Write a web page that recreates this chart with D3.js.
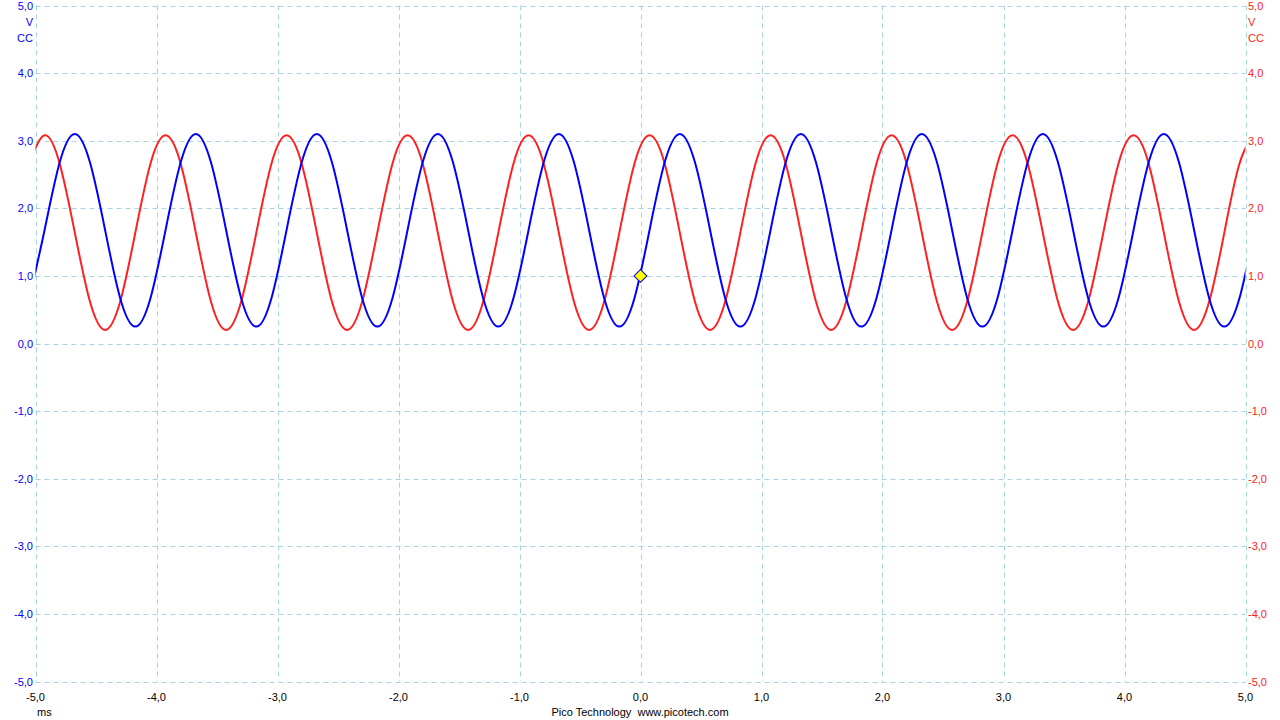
<!DOCTYPE html>
<html>
<head>
<meta charset="utf-8">
<script src="https://cdn.jsdelivr.net/npm/d3@7"></script>
<style>
  html, body { margin: 0; padding: 0; background: #fff; }
  svg { display: block; }
  text { font-family: "Liberation Sans", "DejaVu Sans", sans-serif; font-size: 11px; white-space: pre; }
</style>
</head>
<body>
<svg id="chart" width="1280" height="720"></svg>
<script>
// ---- data ----
const xTicks = [-5, -4, -3, -2, -1, 0, 1, 2, 3, 4, 5];          // ms
const yTicks = [5, 4, 3, 2, 1, 0, -1, -2, -3, -4, -5];          // V
const xUnit = "ms";
const yUnitA = ["V", "CC"];
const yUnitB = ["V", "CC"];
const footer = "Pico Technology  www.picotech.com";
// sample time base (ms) : first sample and interval
const tStart = -5.05;
const tStep = 0.125;
// Channel A (blue), volts
const channelA = [
  0.67, 1.68, 2.68, 3.10, 2.68, 1.68, 0.67, 0.25,
  0.67, 1.68, 2.68, 3.10, 2.68, 1.68, 0.67, 0.25,
  0.67, 1.68, 2.68, 3.10, 2.68, 1.68, 0.67, 0.25,
  0.67, 1.68, 2.68, 3.10, 2.68, 1.68, 0.67, 0.25,
  0.67, 1.68, 2.68, 3.10, 2.68, 1.68, 0.67, 0.25,
  0.67, 1.68, 2.68, 3.10, 2.68, 1.68, 0.67, 0.25,
  0.67, 1.68, 2.68, 3.10, 2.68, 1.68, 0.67, 0.25,
  0.67, 1.68, 2.68, 3.10, 2.68, 1.68, 0.67, 0.25,
  0.67, 1.68, 2.68, 3.10, 2.68, 1.68, 0.67, 0.25,
  0.67, 1.68, 2.68, 3.10, 2.68, 1.68, 0.67, 0.25,
  0.67, 1.68
];
// Channel B (red), volts
const channelB = [
  2.66, 3.08, 2.66, 1.64, 0.62, 0.20, 0.62, 1.64,
  2.66, 3.08, 2.66, 1.64, 0.62, 0.20, 0.62, 1.64,
  2.66, 3.08, 2.66, 1.64, 0.62, 0.20, 0.62, 1.64,
  2.66, 3.08, 2.66, 1.64, 0.62, 0.20, 0.62, 1.64,
  2.66, 3.08, 2.66, 1.64, 0.62, 0.20, 0.62, 1.64,
  2.66, 3.08, 2.66, 1.64, 0.62, 0.20, 0.62, 1.64,
  2.66, 3.08, 2.66, 1.64, 0.62, 0.20, 0.62, 1.64,
  2.66, 3.08, 2.66, 1.64, 0.62, 0.20, 0.62, 1.64,
  2.66, 3.08, 2.66, 1.64, 0.62, 0.20, 0.62, 1.64,
  2.66, 3.08, 2.66, 1.64, 0.62, 0.20, 0.62, 1.64,
  2.66, 3.08
];
const trigger = { t: 0, v: 1.0 };

// ---- drawing ----
const svg = d3.select("#chart");
const L = 35.5, R = 1245.5, T = 5.5, B = 681.5;
const x = d3.scaleLinear().domain([-5, 5]).range([L, R]);
const y = d3.scaleLinear().domain([-5, 5]).range([B, T]);
const blue = "#0000ff", red = "#ff2020", gridC = "#a9d3e0";
const fmt = v => d3.format(".1f")(v).replace(".", ",").replace("−", "-");

// grid
const g = svg.append("g");
g.selectAll(".vg").data(xTicks).join("line")
  .attr("x1", d => Math.round(x(d)) + 0.5).attr("x2", d => Math.round(x(d)) + 0.5)
  .attr("y1", T).attr("y2", B)
  .attr("stroke", gridC).attr("stroke-dasharray", "5,4");
g.selectAll(".hg").data(yTicks).join("line")
  .attr("y1", d => Math.round(y(d)) + 0.5).attr("y2", d => Math.round(y(d)) + 0.5)
  .attr("x1", L).attr("x2", R)
  .attr("stroke", gridC).attr("stroke-dasharray", "5,4");

// traces
svg.append("clipPath").attr("id", "clip").append("rect")
  .attr("x", L).attr("y", T).attr("width", R - L).attr("height", B - T);
const line = d3.line()
  .x((d, i) => x(tStart + i * tStep))
  .y(d => y(d))
  .curve(d3.curveNatural);
svg.append("path").datum(channelB).attr("d", line)
  .attr("fill", "none").attr("stroke", red).attr("stroke-width", 2)
  .attr("clip-path", "url(#clip)");
svg.append("path").datum(channelA).attr("d", line)
  .attr("fill", "none").attr("stroke", blue).attr("stroke-width", 2)
  .attr("clip-path", "url(#clip)");

// trigger marker
const tx = x(trigger.t), ty = y(trigger.v);
svg.append("path")
  .attr("d", d3.symbol().type(d3.symbolSquare).size(82)())
  .attr("transform", `translate(${tx},${ty}) rotate(45)`)
  .attr("fill", "#ffff00").attr("stroke", "#0000e0").attr("stroke-width", 1);

// left axis labels (blue)
svg.append("g").selectAll("text").data(yTicks).join("text")
  .attr("x", 33).attr("y", d => y(d) + 4)
  .attr("text-anchor", "end").attr("fill", blue)
  .text(d => fmt(d));
svg.append("g").selectAll("text").data(yUnitA).join("text")
  .attr("x", 33).attr("y", (d, i) => 26 + i * 16)
  .attr("text-anchor", "end").attr("fill", blue)
  .text(d => d);

// right axis labels (red)
svg.append("g").selectAll("text").data(yTicks).join("text")
  .attr("x", 1248).attr("y", d => y(d) + 4)
  .attr("text-anchor", "start").attr("fill", red)
  .text(d => fmt(d));
svg.append("g").selectAll("text").data(yUnitB).join("text")
  .attr("x", 1248).attr("y", (d, i) => 26 + i * 16)
  .attr("text-anchor", "start").attr("fill", red)
  .text(d => d);

// x axis labels
svg.append("g").selectAll("text").data(xTicks).join("text")
  .attr("x", d => x(d)).attr("y", 701)
  .attr("text-anchor", "middle").attr("fill", "#000")
  .text(d => fmt(d));
svg.append("text").attr("x", 37).attr("y", 716).attr("fill", "#000").text(xUnit);
svg.append("text").attr("x", 640).attr("y", 716).attr("text-anchor", "middle")
  .attr("fill", "#000").text(footer);
</script>
</body>
</html>
